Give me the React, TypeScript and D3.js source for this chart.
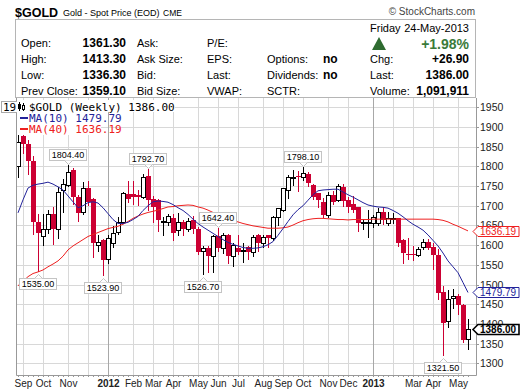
import React, { useEffect, useRef } from 'react';
import * as d3 from 'd3';

// weekly bars (week start Monday), Aug 29 2011 .. May 20 2013
const weeks = d3.timeMonday.range(new Date(2011, 7, 29), new Date(2013, 4, 21));

const opens = [
  1800, 1877, 1857, 1813, 1658, 1622, 1640, 1680, 1642, 1740,
  1752, 1790, 1722, 1685, 1746, 1718, 1600, 1612, 1565, 1605,
  1634, 1660, 1730, 1730, 1727, 1722, 1776, 1718, 1714, 1658,
  1660, 1670, 1638, 1659, 1640, 1663, 1640, 1586, 1592, 1572,
  1622, 1592, 1626, 1572, 1594, 1584, 1595, 1582, 1625, 1605,
  1625, 1618, 1671, 1689, 1740, 1770, 1775, 1772, 1780, 1752,
  1732, 1710, 1676, 1727, 1714, 1748, 1714, 1704, 1697, 1656,
  1657, 1656, 1656, 1684, 1656, 1666, 1668, 1613, 1578, 1578,
  1575, 1595, 1608, 1595, 1575, 1480, 1407, 1465, 1470, 1448,
  1361.3,
];
const highs = [
  1880, 1921, 1868, 1826, 1680, 1680, 1690, 1697, 1748, 1767,
  1804.4, 1795, 1727, 1760, 1764, 1720, 1625, 1616, 1625, 1648,
  1671, 1735, 1764, 1762, 1740, 1781, 1792.7, 1724, 1716, 1672,
  1680, 1680, 1681, 1665, 1669, 1675, 1646, 1597, 1597, 1627,
  1642.4, 1632, 1628, 1605, 1625, 1605, 1598, 1625, 1628, 1625,
  1627, 1675, 1694, 1744, 1777, 1790, 1787, 1798.1, 1785, 1755,
  1733, 1720, 1736, 1738, 1755, 1755, 1723, 1725, 1698, 1667,
  1690, 1677, 1694, 1696, 1684, 1682, 1670, 1616, 1619, 1597,
  1596, 1616, 1615, 1605, 1590, 1497, 1486, 1488, 1476, 1450,
  1413.3,
];
const lows = [
  1773, 1835, 1780, 1628, 1535, 1600, 1630, 1603, 1618, 1683,
  1750, 1705, 1662, 1680, 1702, 1570, 1585, 1523.9, 1555, 1595,
  1628, 1655, 1710, 1705, 1703, 1720, 1688, 1660, 1635, 1627,
  1650, 1613, 1625, 1627, 1635, 1630, 1578, 1526.7, 1532, 1532,
  1585, 1580, 1555, 1547, 1577, 1556, 1565, 1572, 1585, 1595,
  1595, 1612, 1652, 1687, 1720, 1753, 1737, 1765, 1750, 1718,
  1697, 1672, 1672, 1705, 1712, 1700, 1684, 1684, 1635, 1640,
  1620, 1645, 1652, 1654, 1650, 1656, 1598, 1555, 1565, 1562,
  1572, 1590, 1590, 1540, 1462, 1321.5, 1393, 1440, 1425, 1355,
  1336.3,
];
const closes = [
  1862, 1857, 1813, 1658, 1630, 1640, 1678, 1640, 1735, 1756,
  1786, 1722, 1682, 1746, 1710, 1605, 1608, 1562, 1617, 1632,
  1660, 1732, 1718, 1722, 1722, 1772, 1714, 1698, 1664, 1662,
  1673, 1630, 1659, 1640, 1662, 1642, 1582, 1592, 1572, 1622,
  1592, 1626, 1572, 1600, 1582, 1588, 1582, 1620, 1605, 1620,
  1618, 1672, 1694, 1744, 1773, 1772, 1772, 1782, 1757, 1722,
  1714, 1677, 1727, 1710, 1750, 1712, 1697, 1689, 1656, 1658,
  1658, 1671, 1684, 1664, 1668, 1669, 1605, 1580, 1574, 1574,
  1590, 1608, 1592, 1575, 1478, 1402, 1463, 1470, 1448, 1359,
  1386,
];
const ma10 = [
  1682, 1715, 1745, 1752, 1755, 1757, 1760, 1755, 1748, 1740,
  1725, 1710, 1695, 1700, 1708, 1710, 1707, 1695, 1680, 1665,
  1655, 1655, 1658, 1665, 1673, 1688, 1700, 1710, 1712, 1711,
  1709, 1703, 1695, 1688, 1678, 1666, 1655, 1646, 1638, 1630,
  1622, 1614, 1607, 1602, 1598, 1594, 1592, 1592, 1593, 1596,
  1601, 1609, 1625, 1642, 1660, 1677, 1690, 1700, 1714, 1728,
  1738, 1740, 1741, 1742, 1742, 1735, 1728, 1722, 1715, 1708,
  1702, 1699, 1697, 1696, 1694, 1688, 1681, 1672, 1662, 1653,
  1646, 1638, 1626, 1612, 1598, 1580, 1560, 1545, 1530, 1505,
  1479.79,
];
const ma40 = [
  1497, 1508, 1520, 1528, 1532, 1537, 1545, 1552, 1560, 1572,
  1588, 1598, 1606, 1614, 1622, 1627, 1632, 1637, 1642, 1645,
  1648, 1653, 1660, 1668, 1674, 1679, 1683, 1686, 1689, 1693,
  1697, 1698, 1700, 1701, 1702, 1701, 1697, 1694, 1689, 1683,
  1677, 1672, 1667, 1662, 1659, 1655, 1652, 1649, 1647, 1645,
  1643, 1643, 1643, 1644, 1646, 1651, 1657, 1662, 1665, 1667,
  1668, 1668, 1667, 1666, 1665, 1665, 1664, 1665, 1665, 1665,
  1665, 1666, 1666, 1666, 1666, 1666, 1666, 1666, 1666, 1666,
  1666, 1666, 1666, 1666, 1665, 1663, 1659, 1653, 1648, 1642,
  1636.19,
];

const priceTicks = [1300, 1350, 1400, 1450, 1500, 1550, 1600, 1650, 1700, 1750, 1800, 1850, 1900, 1950];
const hiddenMonthLabels = ['2011-12', '2013-02'];

const calloutDates = ['2011-09-26', '2011-11-07', '2011-12-26', '2012-02-27', '2012-05-14', '2012-06-04', '2012-10-01', '2013-04-15'];
const calloutKinds = ['low', 'high', 'low', 'high', 'low', 'high', 'high', 'low'];

const quoteLeftLabels = ['Open:', 'High:', 'Low:', 'Prev Close:'];
const quoteLeftValues = ['1361.30', '1413.30', '1336.30', '1359.10'];
const quoteMidLabels = ['Ask:', 'Ask Size:', 'Bid:', 'Bid Size:'];
const quoteMid2Labels = ['P/E:', 'EPS:', 'Last:', 'VWAP:'];
const quoteFlagLabels = ['', 'Options:', 'Dividends:', 'SCTR:'];
const quoteFlagValues = ['', 'no', 'no', ''];
const quoteRightLabels = ['', 'Chg:', 'Last:', 'Volume:'];
const quoteRightValues = ['+1.98%', '+26.90', '1386.00', '1,091,911'];

const RED = '#cc0033';
const BLUE = '#22229a';
const MA_RED = '#ee2020';
const GREEN = '#3a7a3a';
const SANS = '"Liberation Sans", Arial, Helvetica, sans-serif';
const MONO = '"DejaVu Sans Mono", "Liberation Mono", monospace';

const App = () => {
  const svgRef = useRef<SVGSVGElement>(null);

  useEffect(() => {
    const svg = d3.select(svgRef.current);
    svg.selectAll('*').remove();

    const label = (sel: any, px: number, py: number, str: string, size: number,
      weight = 'normal', anchor = 'start', fill = '#000', family = SANS) =>
      sel.append('text')
        .attr('x', px).attr('y', py)
        .attr('text-anchor', anchor)
        .attr('fill', fill)
        .style('font-family', family)
        .style('font-size', `${size}px`)
        .style('font-weight', weight)
        .text(str);

    // plot area
    const left = 16, right = 476, top = 98, bottom = 375;
    const fmt = d3.timeFormat('%Y-%m-%d');
    const keys = weeks.map(d => fmt(d));
    const x = d3.scalePoint<string>().domain(keys).range([18, 468]);
    const y = d3.scaleLinear().domain([1300, 1950]).range([363.3, 107.3]);
    const ry = (v: number) => Math.round(y(v));
    const cx = (i: number) => x(keys[i]) as number;

    // header
    label(svg, 15, 17, '$GOLD', 12.5, 'bold');
    label(svg, 63, 16, 'Gold - Spot Price (EOD)', 9);
    label(svg, 163, 16, 'CME', 8.5);
    label(svg, 475, 15, '\u00a9 StockCharts.com', 10, 'normal', 'end', '#444');

    svg.append('rect')
      .attr('x', 15.5).attr('y', 19.5).attr('width', 460).attr('height', 78)
      .attr('fill', 'none').attr('stroke', '#b5b5b5');

    const rows = [47, 63, 79, 95];
    rows.forEach((ry0, k) => {
      label(svg, 21, ry0, quoteLeftLabels[k], 11);
      label(svg, 126, ry0, quoteLeftValues[k], 12, 'bold', 'end');
      label(svg, 137, ry0, quoteMidLabels[k], 11);
      label(svg, 207, ry0, quoteMid2Labels[k], 11);
      if (quoteFlagLabels[k]) label(svg, 267, ry0, quoteFlagLabels[k], 11);
      if (quoteFlagValues[k]) label(svg, 323, ry0, quoteFlagValues[k], 12, 'bold');
      if (quoteRightLabels[k]) label(svg, 370, ry0, quoteRightLabels[k], 11);
      if (k === 0) {
        label(svg, 469, 49, quoteRightValues[k], 14, 'bold', 'end', GREEN);
      } else {
        label(svg, 469, ry0, quoteRightValues[k], 12, 'bold', 'end');
      }
    });
    label(svg, 370, 32, 'Friday', 11);
    label(svg, 469, 32, '24-May-2013', 11, 'normal', 'end');
    svg.append('path').attr('d', 'M372,50 L379,37 L386,50 Z').attr('fill', '#2e6b30');

    // grid
    const grid = svg.append('g');
    priceTicks.forEach(t => {
      grid.append('line')
        .attr('x1', left).attr('x2', right)
        .attr('y1', ry(t) + 0.5).attr('y2', ry(t) + 0.5)
        .attr('stroke', '#d8d8d8');
    });

    const monthIdx: number[] = [];
    weeks.forEach((d, i) => {
      if (i > 0 && d.getMonth() !== weeks[i - 1].getMonth()) monthIdx.push(i);
    });
    monthIdx.forEach(i => {
      const isYear = weeks[i].getMonth() === 0;
      grid.append('line')
        .attr('x1', cx(i) + 0.5).attr('x2', cx(i) + 0.5)
        .attr('y1', top).attr('y2', bottom)
        .attr('stroke', isYear ? '#a8a8a8' : '#d8d8d8');
    });

    // week ticks + month labels
    keys.forEach((k, i) => {
      svg.append('line')
        .attr('x1', cx(i) + 0.5).attr('x2', cx(i) + 0.5)
        .attr('y1', bottom).attr('y2', bottom + 2)
        .attr('stroke', '#999');
    });
    monthIdx.forEach(i => {
      const d = weeks[i];
      if (hiddenMonthLabels.includes(d3.timeFormat('%Y-%m')(d))) return;
      const isYear = d.getMonth() === 0;
      label(svg, cx(i) + 0.5, 387, isYear ? d3.timeFormat('%Y')(d) : d3.timeFormat('%b')(d),
        10, isYear ? 'bold' : 'normal', 'middle', '#222');
    });

    // candles
    svg.append('clipPath').attr('id', 'plotclip')
      .append('rect').attr('x', left + 1).attr('y', top).attr('width', right - left - 1).attr('height', bottom - top);
    const plot = svg.append('g').attr('clip-path', 'url(#plotclip)');

    keys.forEach((k, i) => {
      const o = opens[i], c = closes[i];
      const up = c >= o;
      const px = cx(i);
      const col = up ? '#000' : RED;
      plot.append('line')
        .attr('x1', px + 0.5).attr('x2', px + 0.5)
        .attr('y1', ry(highs[i])).attr('y2', ry(lows[i]) + 1)
        .attr('stroke', col);
      const t = ry(Math.max(o, c));
      const b = ry(Math.min(o, c));
      if (up) {
        if (b - t < 1) {
          plot.append('line')
            .attr('x1', px - 2).attr('x2', px + 3)
            .attr('y1', t + 0.5).attr('y2', t + 0.5)
            .attr('stroke', '#000');
        } else {
          plot.append('rect')
            .attr('x', px - 1.5).attr('y', t + 0.5)
            .attr('width', 4).attr('height', b - t)
            .attr('fill', '#fff').attr('stroke', '#000');
        }
      } else {
        plot.append('rect')
          .attr('x', px - 2).attr('y', t)
          .attr('width', 5).attr('height', Math.max(b - t, 1))
          .attr('fill', RED);
      }
    });

    // moving averages
    const line = d3.line<number>().x((_, i) => cx(i)).y(v => y(v));
    plot.append('path').datum(ma40).attr('d', line).attr('fill', 'none').attr('stroke', MA_RED).attr('stroke-width', 1);
    plot.append('path').datum(ma10).attr('d', line).attr('fill', 'none').attr('stroke', BLUE).attr('stroke-width', 1);

    // high / low callouts
    calloutDates.forEach((dk, n) => {
      const i = keys.indexOf(dk);
      const kind = calloutKinds[n];
      const v = kind === 'high' ? highs[i] : lows[i];
      const px = cx(i) + 0.5;
      const g = svg.append('g');
      const tx = label(g, 0, 0, v.toFixed(2), 9, 'normal', 'middle', '#000');
      const w = Math.round((tx.node() as SVGTextElement).getComputedTextLength()) + 4;
      const bx = Math.round(px - 1 - w / 2) + 0.5;
      let by: number;
      let tip: string;
      if (kind === 'high') {
        by = ry(v) - 16 + 0.5;
        tip = `M${px - 4},${by + 11} L${px},${by + 15} L${px + 4},${by + 11}`;
      } else {
        by = ry(v) + 7 + 0.5;
        tip = `M${px - 4},${by} L${px},${by - 4} L${px + 4},${by}`;
      }
      g.insert('rect', 'text')
        .attr('x', bx).attr('y', by).attr('width', w).attr('height', 11)
        .attr('fill', '#fff').attr('stroke', '#c4c4c4');
      g.insert('path', 'text').attr('d', tip).attr('fill', '#fff').attr('stroke', '#c4c4c4');
      tx.attr('x', bx + w / 2).attr('y', by + 8.5);
    });

    // frame
    svg.append('path')
      .attr('d', `M${left + 0.5},${top} V${bottom + 0.5} H${right + 0.5} V${top}`)
      .attr('fill', 'none').attr('stroke', '#999');

    // clipped price box peeking out left of the legend
    svg.append('rect').attr('x', 1.5).attr('y', 101.5).attr('width', 44).attr('height', 11)
      .attr('fill', '#fff').attr('stroke', '#aaa');
    label(svg, 3, 111, '19', 11, 'normal', 'start', '#000', MONO);

    // legend
    svg.append('rect').attr('x', 17).attr('y', 100).attr('width', 158).attr('height', 12).attr('fill', '#fff');
    svg.append('rect').attr('x', 17).attr('y', 112).attr('width', 84).attr('height', 23).attr('fill', '#fff');
    const icon = svg.append('g').attr('stroke', '#000');
    icon.append('line').attr('x1', 19.5).attr('x2', 19.5).attr('y1', 102).attr('y2', 111);
    icon.append('rect').attr('x', 18.5).attr('y', 104.5).attr('width', 2).attr('height', 4).attr('fill', '#000');
    icon.append('line').attr('x1', 23.5).attr('x2', 23.5).attr('y1', 103).attr('y2', 111);
    icon.append('rect').attr('x', 22.5).attr('y', 105.5).attr('width', 2).attr('height', 4).attr('fill', '#fff');
    label(svg, 29, 111, `$GOLD (Weekly) ${closes[closes.length - 1].toFixed(2)}`, 11, 'normal', 'start', '#000', MONO);
    svg.append('line').attr('x1', 20).attr('x2', 28).attr('y1', 118).attr('y2', 118).attr('stroke', BLUE).attr('stroke-width', 2);
    label(svg, 29, 122, `MA(10) ${ma10[ma10.length - 1].toFixed(2)}`, 11, 'normal', 'start', BLUE, MONO);
    svg.append('line').attr('x1', 20).attr('x2', 28).attr('y1', 129).attr('y2', 129).attr('stroke', MA_RED).attr('stroke-width', 2);
    label(svg, 29, 133, `MA(40) ${ma40[ma40.length - 1].toFixed(2)}`, 11, 'normal', 'start', MA_RED, MONO);

    // right axis
    priceTicks.forEach(t => {
      svg.append('line')
        .attr('x1', right).attr('x2', right + 3)
        .attr('y1', ry(t) + 0.5).attr('y2', ry(t) + 0.5)
        .attr('stroke', '#999');
      label(svg, 480, ry(t) + 4, String(t), 10.5, 'normal', 'start', '#222');
    });

    const tags = [
      { v: ma40[ma40.length - 1], color: MA_RED, bold: false },
      { v: ma10[ma10.length - 1], color: BLUE, bold: false },
      { v: closes[closes.length - 1], color: '#000', bold: true },
    ];
    tags.forEach(tg => {
      const c = ry(tg.v) + 0.5;
      svg.append('path')
        .attr('d', `M473,${c} L478,${c - 5} H519 V${c + 5} H478 Z`)
        .attr('fill', '#fff').attr('stroke', tg.color).attr('stroke-width', tg.bold ? 1.6 : 1);
      label(svg, 480, c + 3.5, tg.v.toFixed(2), 10, tg.bold ? 'bold' : 'normal', 'start', tg.color);
    });
  }, []);

  return (
    <svg
      ref={svgRef}
      width={520}
      height={391}
      style={{ position: 'absolute', left: 0, top: 0, background: '#fff', display: 'block' }}
    />
  );
};

export default App;
